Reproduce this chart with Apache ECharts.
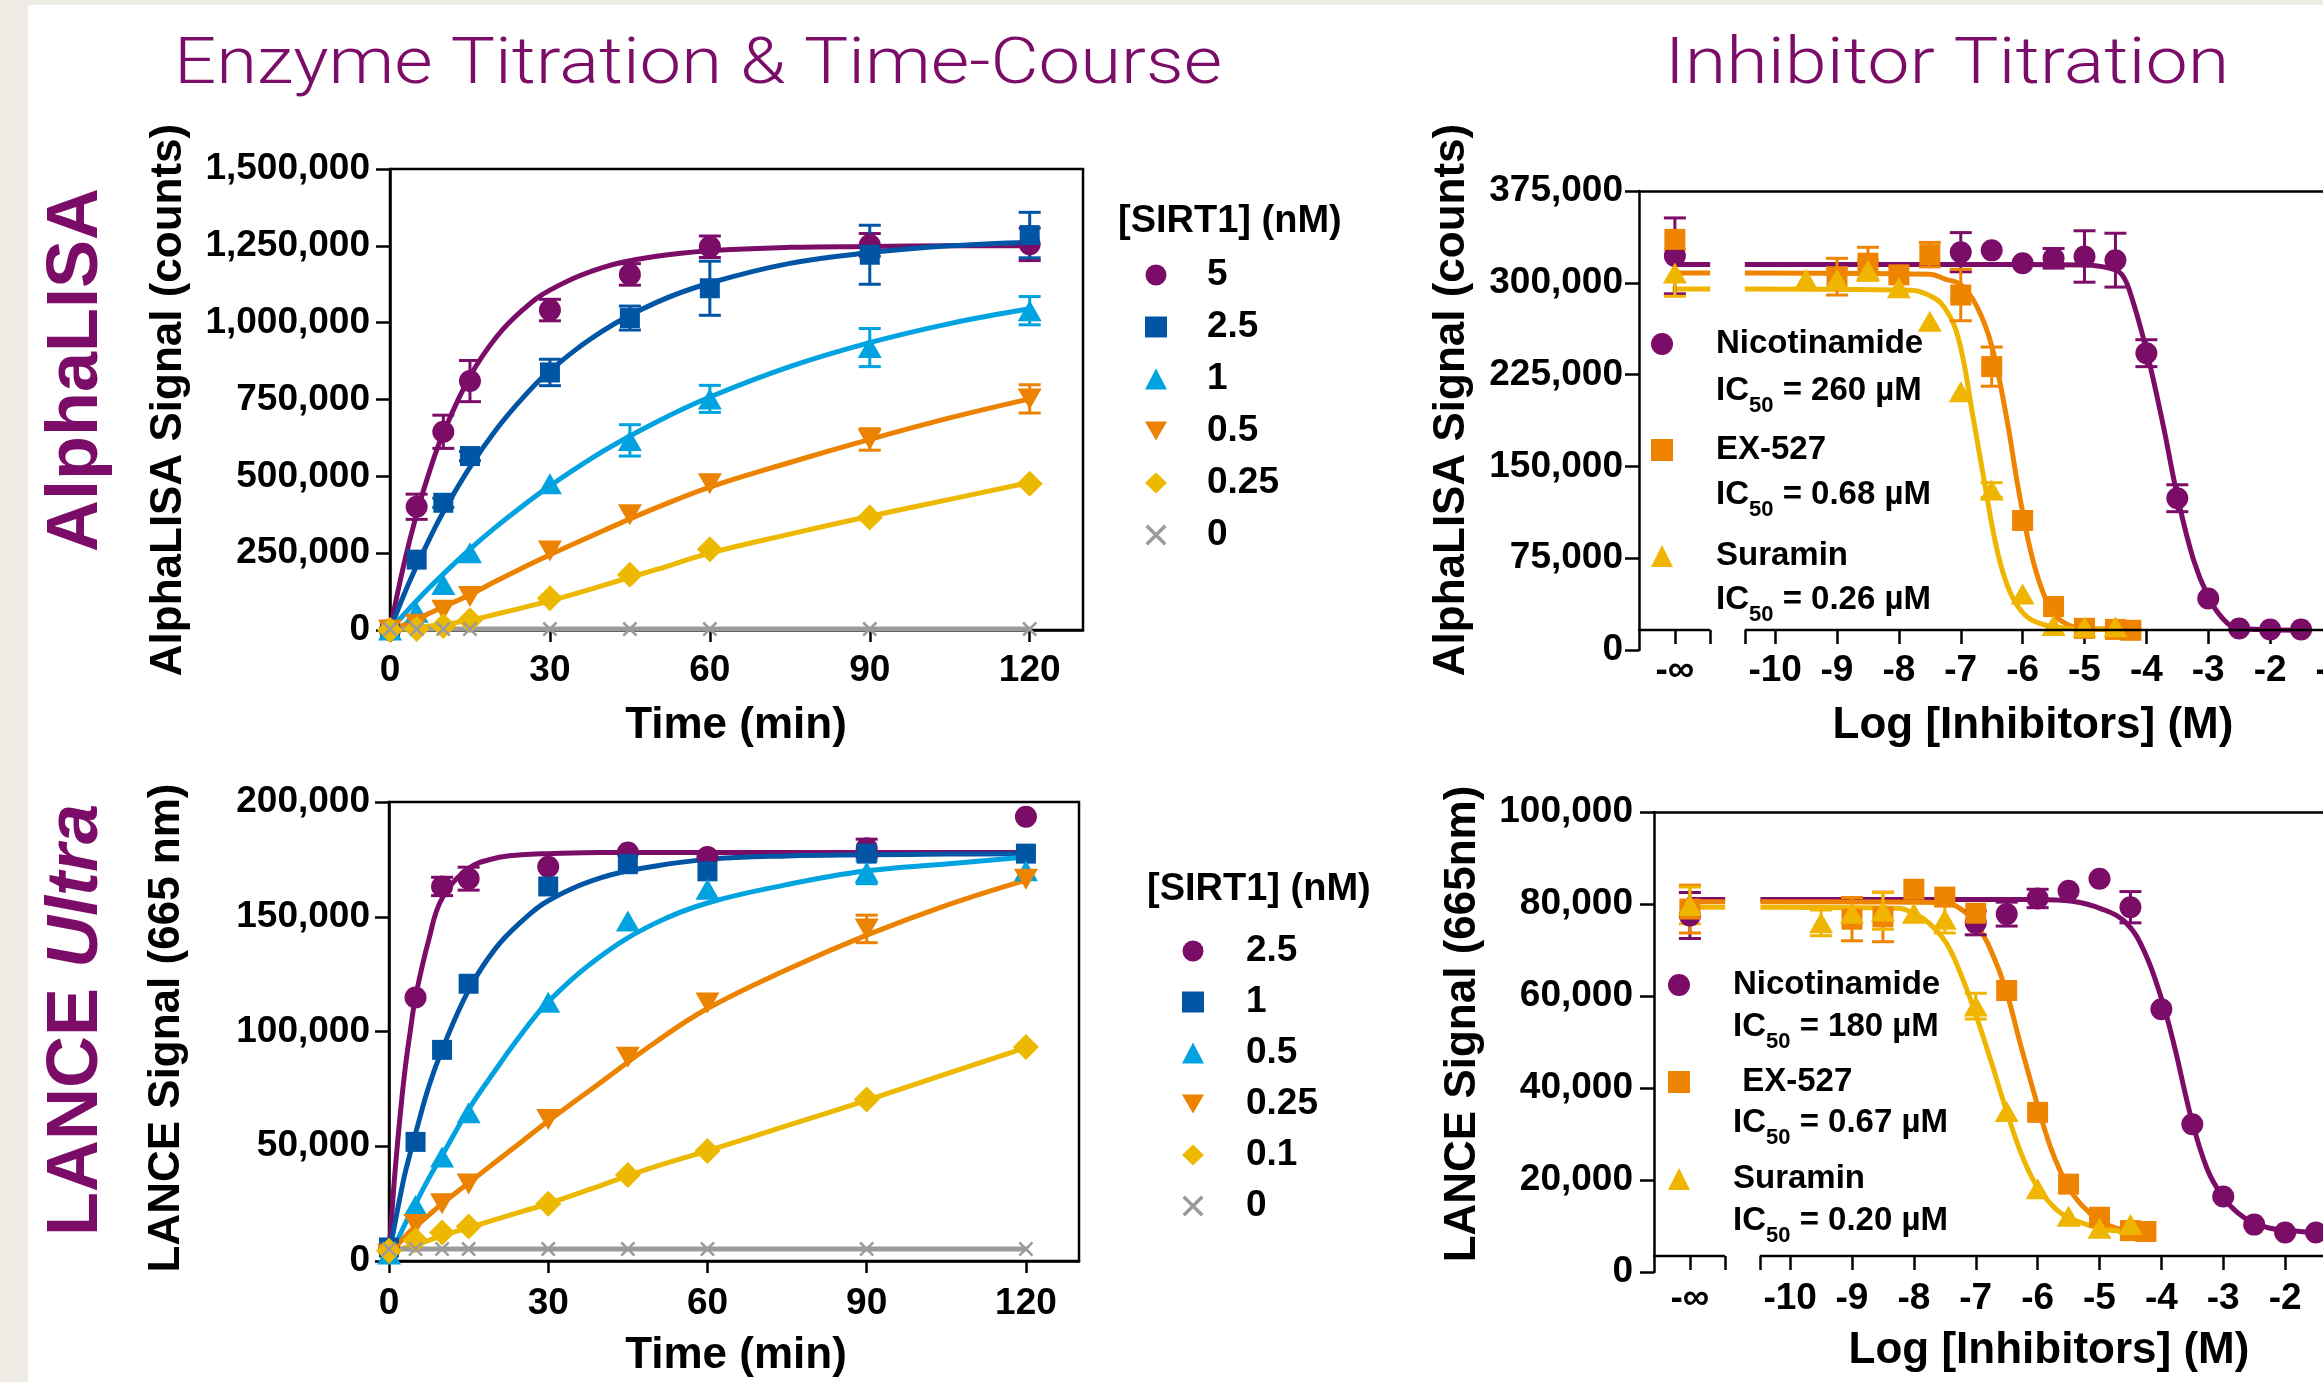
<!DOCTYPE html>
<html><head><meta charset="utf-8">
<script src="https://cdn.jsdelivr.net/npm/echarts@6/dist/echarts.min.js"></script>
<style>html,body{margin:0;padding:0;background:#fff;}#c{width:2323px;height:1382px;}</style>
</head><body><div id="c"></div>
<script>
// ---------------- DATA ----------------
// Enzyme titration & time-course
const TIME_POINTS = [0, 5, 10, 15, 30, 45, 60, 90, 120];
const TIME_TICKS = [0, 30, 60, 90, 120];

// AlphaLISA, [SIRT1] (nM)
const AL_TC_NAMES = ['5', '2.5', '1', '0.5', '0.25', '0'];
const AL_5 = [0, 401000, 645000, 810000, 1041000, 1157000, 1247000, 1253000, 1255000];
const AL_5_ERR = [0, 41000, 54000, 67000, 35000, 35000, 35000, 37000, 53000];
const AL_2_5 = [0, 229000, 414000, 566000, 838000, 1015000, 1112000, 1221000, 1285000];
const AL_2_5_ERR = [0, 0, 15000, 15000, 43000, 39000, 88000, 96000, 74000];
const AL_1 = [0, 58000, 148000, 251000, 476000, 617000, 752000, 919000, 1039000];
const AL_1_ERR = [0, 0, 0, 0, 0, 51000, 44000, 62000, 46000];
const AL_0_5 = [0, 19000, 64000, 109000, 257000, 375000, 476000, 620000, 752000];
const AL_0_5_ERR = [0, 0, 0, 0, 0, 0, 0, 35000, 46000];
const AL_0_25 = [0, 3000, 13000, 32000, 103000, 180000, 263000, 366000, 476000];
const AL_0 = [3000, 3000, 3000, 3000, 3000, 3000, 3000, 3000, 3000];
const AL_FIT_T = [0, 2.5, 5, 7.5, 10, 15, 20, 25, 30, 40, 50, 60, 75, 90, 105, 120];
const AL_FIT_5 = [0, 206000, 378000, 521000, 641000, 825000, 954000, 1043000, 1106000, 1180000, 1216000, 1234000, 1245000, 1248000, 1250000, 1250000];
const AL_FIT_2_5 = [0, 110000, 209000, 300000, 384000, 530000, 654000, 757000, 844000, 974000, 1066000, 1129000, 1193000, 1228000, 1250000, 1262000];
const AL_FIT_1 = [0, 48000, 95000, 140000, 182000, 263000, 337000, 405000, 469000, 582000, 677000, 758000, 857000, 935000, 997000, 1045000];
const AL_FIT_0_5 = [0, 16000, 35000, 55000, 75000, 115000, 160000, 203000, 245000, 323000, 398000, 465000, 545000, 620000, 690000, 752000];
const AL_FIT_0_25 = [0, 3000, 8000, 13000, 18000, 32000, 52000, 73000, 95000, 145000, 197000, 250000, 312000, 370000, 425000, 480000];
const AL_FIT0_T = [0, 120];
const AL_FIT_0 = [3000, 3000];
const AL_TC_TICKS = [0, 250000, 500000, 750000, 1000000, 1250000, 1500000];

// LANCE Ultra, [SIRT1] (nM)
const LU_TC_NAMES = ['2.5', '1', '0.5', '0.25', '0.1', '0'];
const LU_2_5 = [4700, 114800, 163200, 166600, 171800, 178000, 176000, 179800, 193600];
const LU_2_5_ERR = [0, 0, 4000, 5000, 0, 0, 0, 4000, 0];
const LU_1 = [5900, 51900, 92000, 120800, 163200, 172900, 169800, 177500, 177500];
const LU_1_ERR = [0, 0, 0, 0, 0, 0, 0, 0, 0];
const LU_0_5 = [3000, 24200, 45300, 64600, 112700, 148100, 162000, 169400, 170000];
const LU_0_5_ERR = [0, 0, 0, 0, 0, 0, 0, 5000, 0];
const LU_0_25 = [3000, 15900, 24900, 33500, 61700, 88800, 112400, 144700, 166300];
const LU_0_25_ERR = [0, 0, 0, 0, 0, 0, 0, 6000, 0];
const LU_0_1 = [4500, 9000, 12400, 15000, 24900, 37500, 47900, 70400, 93300];
const LU_0 = [5200, 5200, 5200, 5200, 5200, 5200, 5200, 5200, 5200];
const LU_FIT_T = [0, 1, 2, 3, 4, 5, 7.5, 10, 15, 20, 25, 30, 40, 50, 60, 75, 90, 105, 120];
const LU_FIT_2_5 = [3000, 35000, 61000, 83000, 100000, 115000, 140000, 158000, 171000, 175500, 177000, 177500, 178000, 178000, 178000, 178000, 178000, 178000, 178000];
const LU_FIT_1 = [3000, 15000, 27000, 38000, 47000, 55600, 76000, 92000, 118000, 136000, 148000, 157000, 167000, 172000, 175000, 176500, 177000, 177300, 177500];
const LU_FIT_0_5 = [1000, 6000, 11000, 16000, 20500, 25000, 36000, 46000, 66000, 83000, 99000, 113000, 133000, 147000, 156000, 164000, 170000, 173000, 176000];
const LU_FIT_0_25 = [3000, 5500, 8000, 10500, 13000, 15000, 20000, 25000, 34000, 43000, 52000, 61000, 78000, 95000, 110000, 127000, 142000, 155000, 166000];
const LU_FIT_0_1 = [4000, 4600, 5200, 5800, 6400, 7000, 9000, 11000, 14500, 18000, 21500, 25000, 33000, 41000, 48000, 59000, 70000, 81500, 93000];
const LU_FIT0_T = [0, 120];
const LU_FIT_0 = [5200, 5200];
const LU_TC_TICKS = [0, 50000, 100000, 150000, 200000];

// Inhibitor titration: log [inhibitor] (M); -Infinity = no inhibitor
const INHIB_NAMES = ['Nicotinamide', 'EX-527', 'Suramin'];
const LOG_TICK_LABELS = [-10, -9, -8, -7, -6, -5, -4, -3, -2, -1];

const AL_NICO_LOGC = [-Infinity, -7, -6.5, -6, -5.5, -5, -4.5, -4, -3.5, -3, -2.5, -2, -1.5];
const AL_NICO = [322000, 325000, 326500, 316000, 320000, 321500, 318500, 242500, 124000, 42000, 17500, 16800, 16800];
const AL_NICO_ERR = [31000, 16000, 0, 0, 8000, 21000, 22000, 11000, 11000, 0, 0, 0, 0];
const AL_NICO_FIT_X = [-10.49, -6, -5, -4.6, -4.4, -4.25, -4, -3.73, -3.5, -3.24, -3, -2.77, -2.52, -2, -1.5];
const AL_NICO_FIT = [315000, 315000, 314500, 312000, 307000, 290000, 245000, 184000, 126000, 74000, 43600, 26000, 17700, 16500, 16200];
const AL_EX_LOGC = [-Infinity, -9, -8.5, -8, -7.5, -7, -6.5, -6, -5.5, -5, -4.5, -4.25];
const AL_EX = [335500, 305000, 316000, 306500, 323000, 290000, 231500, 105800, 35500, 17700, 16800, 16100];
const AL_EX_ERR = [0, 15000, 13000, 0, 10000, 21000, 16000, 0, 0, 0, 0, 0];
const AL_EX_FIT_X = [-10.49, -7.5, -7.25, -7, -6.74, -6.5, -6.26, -6.07, -5.87, -5.68, -5.49, -5.24, -5, -4.22];
const AL_EX_FIT = [308000, 307000, 303000, 298500, 280700, 248500, 190000, 132000, 80700, 48400, 29000, 20000, 17700, 16800];
const AL_SUR_LOGC = [-Infinity, -9.5, -9, -8.5, -8, -7.5, -7, -6.5, -6, -5.5, -5, -4.5];
const AL_SUR = [308000, 303000, 303000, 310000, 296000, 268500, 211000, 130700, 45800, 20000, 18700, 19000];
const AL_SUR_ERR = [19000, 0, 8000, 8000, 0, 0, 0, 6000, 0, 0, 0, 0];
const AL_SUR_FIT_X = [-10.49, -7.8, -7.52, -7.28, -7.04, -6.8, -6.6, -6.41, -6.21, -5.97, -5.68, -5.29, -4.51];
const AL_SUR_FIT = [295000, 294000, 290000, 281000, 255000, 190000, 132000, 81000, 48000, 29000, 21000, 18000, 16500];
const AL_IC50 = ['260 µM', '0.68 µM', '0.26 µM'];
const AL_IN_TICKS = [0, 75000, 150000, 225000, 300000, 375000];

const LU_NICO_LOGC = [-Infinity, -7, -6.5, -6, -5.5, -5, -4.5, -4, -3.5, -3, -2.5, -2, -1.5];
const LU_NICO = [77500, 75900, 77800, 81200, 82900, 85500, 79300, 57100, 32100, 16400, 10300, 8600, 8600];
const LU_NICO_ERR = [5000, 2600, 2600, 2000, 0, 0, 3400, 0, 0, 0, 0, 0, 0];
const LU_NICO_FIT_X = [-10.48, -6, -5.44, -4.96, -4.57, -4.28, -4.0, -3.79, -3.52, -3.26, -3.01, -2.77, -2.53, -2.24, -2.0, -1.54];
const LU_NICO_FIT = [81000, 81000, 80600, 78900, 75900, 69800, 59500, 49100, 33600, 22400, 16400, 12900, 10800, 9500, 9100, 8600];
const LU_EX_LOGC = [-Infinity, -9, -8.5, -8, -7.5, -7, -6.5, -6, -5.5, -5, -4.5, -4.25];
const LU_EX = [78900, 76700, 77200, 83200, 81500, 78000, 61200, 34700, 19100, 11900, 9000, 8800];
const LU_EX_ERR = [5200, 4700, 5400, 0, 0, 0, 0, 0, 0, 0, 0, 0];
const LU_EX_FIT_X = [-10.48, -7.51, -7.24, -7.0, -6.75, -6.51, -6.27, -6.0, -5.78, -5.54, -5.30, -5.0, -4.71, -4.23];
const LU_EX_FIT = [80500, 80300, 78900, 75900, 69800, 61200, 49100, 36200, 26700, 19400, 14700, 11200, 9500, 8600];
const LU_SUR_LOGC = [-Infinity, -9.5, -9, -8.5, -8, -7.5, -7, -6.5, -6, -5.5, -5, -4.5];
const LU_SUR = [79700, 75900, 78000, 78500, 78000, 76700, 57800, 34900, 18100, 12100, 9500, 10300];
const LU_SUR_ERR = [4000, 2800, 0, 4000, 0, 3000, 2800, 0, 0, 0, 0, 0];
const LU_SUR_FIT_X = [-10.48, -8.26, -8.0, -7.76, -7.48, -7.24, -7.0, -6.75, -6.51, -6.27, -6.03, -5.78, -5.54, -5.0, -4.52];
const LU_SUR_FIT = [79300, 79100, 78000, 75900, 71600, 64700, 56000, 45700, 35300, 25900, 19000, 14700, 12100, 9500, 8800];
const LU_IC50 = ['180 µM', '0.67 µM', '0.20 µM'];
const LU_IN_TICKS = [0, 20000, 40000, 60000, 80000, 100000];

// ---------------- STYLE ----------------
const FONT = '"Liberation Sans", Arial, Helvetica, sans-serif';
const TITLE_FONT = 'Roboto, "Open Sans", Lato, sans-serif';
const PURPLE = '#7B0C68', BLUE = '#0055A5', CYAN = '#00A3DF', ORANGE = '#EB8200', GOLD = '#EDB800', GRAY = '#9B9B9B';
const IN_ORANGE = '#EE8400', IN_GOLD = '#F0B500';
const SYM_DOWN = 'path://M0,0 L10,0 L5,8.7 Z';
const SYM_X = 'path://M1.2,0 L5,3.8 L8.8,0 L10,1.2 L6.2,5 L10,8.8 L8.8,10 L5,6.2 L1.2,10 L0,8.8 L3.8,5 L0,1.2 Z';
// broken log axis layout (axis positions, not data)
const LOG_MIN = -12.2, LOG_MAX = 0.6;
const NEG_INF_POS = -11.62, SEG1_END = -11.05, SEG2_START = -10.49, NEG_INF_LINE_START = -11.66;
const AX_W = 2.5;

const chart = echarts.init(document.getElementById('c'), null, {renderer: 'canvas', width: 2323, height: 1382});

const lineStyleAx = {color: '#000', width: AX_W};
const fmtNum = v => v.toLocaleString('en-US');
const fmtLog = v => (v < -11 ? '-∞' : '-' + Math.abs(v));
const labelStyle = {fontSize: 37, fontWeight: 'bold', color: '#000', fontFamily: FONT};

function timeX(gi, margin) {
  return {type: 'value', gridIndex: gi, min: 0, max: 130, position: 'bottom',
    axisLine: {show: true, onZero: false, lineStyle: lineStyleAx},
    axisTick: {show: true, length: 12, customValues: TIME_TICKS, lineStyle: lineStyleAx},
    axisLabel: Object.assign({margin, customValues: TIME_TICKS}, labelStyle),
    splitLine: {show: false}};
}
function logX(gi, offset, margin) {
  const ticks = [NEG_INF_POS, SEG1_END, SEG2_START].concat(LOG_TICK_LABELS);
  return {type: 'value', gridIndex: gi, min: LOG_MIN, max: LOG_MAX, position: 'bottom', offset: -offset,
    axisLine: {show: false, onZero: false},
    axisTick: {show: true, length: 14, customValues: ticks, lineStyle: lineStyleAx},
    axisLabel: Object.assign({margin, customValues: [NEG_INF_POS].concat(LOG_TICK_LABELS), formatter: fmtLog}, labelStyle),
    splitLine: {show: false}};
}
function frameX(gi) {
  return {type: 'value', gridIndex: gi, min: LOG_MIN, max: LOG_MAX, position: 'top',
    axisLine: {show: true, onZero: false, lineStyle: lineStyleAx}, axisTick: {show: false}, axisLabel: {show: false}, splitLine: {show: false}};
}
function yAx(gi, ticks, margin) {
  return {type: 'value', gridIndex: gi, min: 0, max: ticks[ticks.length - 1], interval: ticks[1] - ticks[0],
    axisLine: {show: true, onZero: false, lineStyle: lineStyleAx},
    axisTick: {show: true, length: 14, lineStyle: lineStyleAx},
    axisLabel: Object.assign({margin, formatter: fmtNum}, labelStyle),
    splitLine: {show: false}};
}

const curves = [], errs = [], marks = [];
function group(xi, yi, name, color, symbol, size, xs, ys, es, fx, fy, extraTop) {
  const px = x => (x === -Infinity ? NEG_INF_POS : x);
  curves.push({type: 'line', xAxisIndex: xi, yAxisIndex: yi, data: fx.map((x, i) => [x, fy[i]]),
    showSymbol: false, symbol: 'none', smooth: 0.4, clip: false,
    lineStyle: {color, width: 5}, itemStyle: {color}, z: 2, silent: true});
  if (extraTop) {
    curves.push({type: 'line', xAxisIndex: xi, yAxisIndex: yi, data: [[NEG_INF_LINE_START, fy[0]], [SEG1_END, fy[0]]],
      showSymbol: false, symbol: 'none', clip: false, lineStyle: {color, width: 5}, itemStyle: {color}, z: 2, silent: true});
  }
  if (es) {
    errs.push({type: 'custom', xAxisIndex: xi, yAxisIndex: yi, z: 3, silent: true, clip: false,
      data: xs.map((x, i) => [px(x), ys[i], es[i]]), encode: {x: 0, y: 1},
      renderItem: function (params, api) {
        const x = api.value(0), y = api.value(1), e = api.value(2);
        if (!e) return {type: 'group', children: []};
        const t = api.coord([x, y + e]), b = api.coord([x, y - e]);
        const w = 11, st = {stroke: color, lineWidth: 3};
        return {type: 'group', children: [
          {type: 'line', shape: {x1: t[0], y1: t[1], x2: b[0], y2: b[1]}, style: st},
          {type: 'line', shape: {x1: t[0] - w, y1: t[1], x2: t[0] + w, y2: t[1]}, style: st},
          {type: 'line', shape: {x1: b[0] - w, y1: b[1], x2: b[0] + w, y2: b[1]}, style: st}]};
      }});
  }
  marks.push({type: 'scatter', name, xAxisIndex: xi, yAxisIndex: yi, data: xs.map((x, i) => [px(x), ys[i]]),
    symbol, symbolSize: size, clip: false, itemStyle: {color, opacity: 1}, z: 4, silent: true});
}

// top-left
group(0, 0, 'A|' + AL_TC_NAMES[0], PURPLE, 'circle', 22, TIME_POINTS, AL_5, AL_5_ERR, AL_FIT_T, AL_FIT_5);
group(0, 0, 'A|' + AL_TC_NAMES[1], BLUE, 'rect', 20, TIME_POINTS, AL_2_5, AL_2_5_ERR, AL_FIT_T, AL_FIT_2_5);
group(0, 0, 'A|' + AL_TC_NAMES[2], CYAN, 'triangle', [24, 21], TIME_POINTS, AL_1, AL_1_ERR, AL_FIT_T, AL_FIT_1);
group(0, 0, 'A|' + AL_TC_NAMES[3], ORANGE, SYM_DOWN, [24, 21], TIME_POINTS, AL_0_5, AL_0_5_ERR, AL_FIT_T, AL_FIT_0_5);
group(0, 0, 'A|' + AL_TC_NAMES[4], GOLD, 'diamond', 26, TIME_POINTS, AL_0_25, null, AL_FIT_T, AL_FIT_0_25);
group(0, 0, 'A|' + AL_TC_NAMES[5], GRAY, SYM_X, 15, TIME_POINTS, AL_0, null, AL_FIT0_T, AL_FIT_0);
// bottom-left
group(3, 2, 'L|' + LU_TC_NAMES[0], PURPLE, 'circle', 22, TIME_POINTS, LU_2_5, LU_2_5_ERR, LU_FIT_T, LU_FIT_2_5);
group(3, 2, 'L|' + LU_TC_NAMES[1], BLUE, 'rect', 20, TIME_POINTS, LU_1, LU_1_ERR, LU_FIT_T, LU_FIT_1);
group(3, 2, 'L|' + LU_TC_NAMES[2], CYAN, 'triangle', [24, 21], TIME_POINTS, LU_0_5, LU_0_5_ERR, LU_FIT_T, LU_FIT_0_5);
group(3, 2, 'L|' + LU_TC_NAMES[3], ORANGE, SYM_DOWN, [24, 21], TIME_POINTS, LU_0_25, LU_0_25_ERR, LU_FIT_T, LU_FIT_0_25);
group(3, 2, 'L|' + LU_TC_NAMES[4], GOLD, 'diamond', 26, TIME_POINTS, LU_0_1, null, LU_FIT_T, LU_FIT_0_1);
group(3, 2, 'L|' + LU_TC_NAMES[5], GRAY, SYM_X, 15, TIME_POINTS, LU_0, null, LU_FIT0_T, LU_FIT_0);
// top-right
group(1, 1, 'AI|' + INHIB_NAMES[0], PURPLE, 'circle', 22, AL_NICO_LOGC, AL_NICO, AL_NICO_ERR, AL_NICO_FIT_X, AL_NICO_FIT, true);
group(1, 1, 'AI|' + INHIB_NAMES[1], IN_ORANGE, 'rect', 21, AL_EX_LOGC, AL_EX, AL_EX_ERR, AL_EX_FIT_X, AL_EX_FIT, true);
group(1, 1, 'AI|' + INHIB_NAMES[2], IN_GOLD, 'triangle', [24, 21], AL_SUR_LOGC, AL_SUR, AL_SUR_ERR, AL_SUR_FIT_X, AL_SUR_FIT, true);
// bottom-right
group(4, 3, 'LI|' + INHIB_NAMES[0], PURPLE, 'circle', 22, LU_NICO_LOGC, LU_NICO, LU_NICO_ERR, LU_NICO_FIT_X, LU_NICO_FIT, true);
group(4, 3, 'LI|' + INHIB_NAMES[1], IN_ORANGE, 'rect', 21, LU_EX_LOGC, LU_EX, LU_EX_ERR, LU_EX_FIT_X, LU_EX_FIT, true);
group(4, 3, 'LI|' + INHIB_NAMES[2], IN_GOLD, 'triangle', [24, 21], LU_SUR_LOGC, LU_SUR, LU_SUR_ERR, LU_SUR_FIT_X, LU_SUR_FIT, true);

function legTs(size, lh, padLeft) {
  return {fontSize: size, fontWeight: 'bold', fontFamily: FONT, color: '#000', lineHeight: lh, padding: [0, 0, 0, padLeft]};
}
function leg(prefix, names, left, top, w, h, gap, ts, fmt) {
  return {data: names.map(n => prefix + n), orient: 'vertical', left, top, itemWidth: w, itemHeight: h, itemGap: gap,
    padding: 0, selectedMode: false, textStyle: ts, formatter: fmt || (n => n.split('|')[1]), symbolKeepAspect: true};
}

function txt(x, y, text, size, opts) {
  opts = opts || {};
  return {type: 'text', x, y, rotation: opts.rot || 0, scaleX: opts.sx || 1, z: 10, silent: true,
    style: Object.assign({text, fontSize: size, fontWeight: opts.weight || 'bold', fontFamily: opts.family || FONT,
      fill: opts.color || '#000', align: opts.align || 'center', verticalAlign: opts.valign || 'middle'}, opts.style || {})};
}
function icText(x, y, value) {
  const base = {fontSize: 33, fontWeight: 'bold', fontFamily: FONT, fill: '#000'};
  return {type: 'text', x, y, z: 10, silent: true, style: {
    text: '{a|IC}{s|50}{a| = ' + value + '}{h|\u200b}', align: 'left', verticalAlign: 'top',
    rich: {a: Object.assign({lineHeight: 40, verticalAlign: 'top'}, base),
           s: {fontSize: 22, fontWeight: 'bold', fontFamily: FONT, fill: '#000', lineHeight: 22, verticalAlign: 'bottom'},
           h: {fontSize: 2, lineHeight: 43, fontFamily: FONT}}}};
}

const baseGraphics = [
  {type: 'rect', shape: {x: 0, y: 0, width: 28, height: 1382}, style: {fill: '#EDEBE4'}, z: 0, silent: true},
  {type: 'rect', shape: {x: 0, y: 0, width: 2323, height: 5}, style: {fill: '#EDEBE4'}, z: 0, silent: true},
  txt(698, 67, 'Enzyme Titration & Time-Course', 64, {weight: 300, family: TITLE_FONT, color: PURPLE, sx: 1.16}),
  txt(1947, 67, 'Inhibitor Titration', 64, {weight: 300, family: TITLE_FONT, color: PURPLE, sx: 1.18}),
  txt(77, 370, 'AlphaLISA', 72, {rot: Math.PI / 2, color: PURPLE}),
  {type: 'text', x: 77, y: 1020, rotation: Math.PI / 2, z: 10, silent: true, style: {
    text: '{b|LANCE }{i|Ultra}', align: 'center', verticalAlign: 'middle',
    rich: {b: {fontSize: 72, fontWeight: 'bold', fontFamily: FONT, fill: PURPLE},
           i: {fontSize: 72, fontWeight: 'bold', fontStyle: 'italic', fontFamily: FONT, fill: PURPLE}}}},
  txt(169, 400, 'AlphaLISA Signal (counts)', 44, {rot: Math.PI / 2}),
  txt(1452, 400, 'AlphaLISA Signal (counts)', 44, {rot: Math.PI / 2}),
  txt(167, 1028, 'LANCE Signal (665 nm)', 44, {rot: Math.PI / 2}),
  txt(1463, 1024, 'LANCE Signal (665nm)', 44, {rot: Math.PI / 2}),
  txt(736, 726, 'Time (min)', 44),
  txt(736, 1356, 'Time (min)', 44),
  txt(2033, 726, 'Log [Inhibitors] (M)', 44),
  txt(2049, 1351, 'Log [Inhibitors] (M)', 44),
  txt(1118, 222, '[SIRT1] (nM)', 38, {align: 'left'}),
  txt(1147, 890, '[SIRT1] (nM)', 38, {align: 'left'}),
  icText(1716, 374, AL_IC50[0]), icText(1716, 478, AL_IC50[1]), icText(1716, 583, AL_IC50[2]),
  icText(1733, 1010, LU_IC50[0]), icText(1733, 1106, LU_IC50[1]), icText(1733, 1204, LU_IC50[2])
];

const option = {
  animation: false,
  backgroundColor: '#fff',
  grid: [
    {left: 390, top: 169, width: 693, height: 461, show: true, borderColor: '#000', borderWidth: AX_W, containLabel: false, outerBoundsMode: 'none'},
    {left: 1639, top: 191, width: 792, height: 459, containLabel: false, outerBoundsMode: 'none'},
    {left: 389, top: 802, width: 690, height: 459, show: true, borderColor: '#000', borderWidth: AX_W, containLabel: false, outerBoundsMode: 'none'},
    {left: 1654, top: 812, width: 792, height: 460, containLabel: false, outerBoundsMode: 'none'}
  ],
  xAxis: [timeX(0, 22), logX(1, 20, 22), frameX(1), timeX(2, 24), logX(3, 16, 24), frameX(3)],
  yAxis: [yAx(0, AL_TC_TICKS, 20), yAx(1, AL_IN_TICKS, 16), yAx(2, LU_TC_TICKS, 19), yAx(3, LU_IN_TICKS, 21)],
  legend: [
    leg('A|', AL_TC_NAMES, 1145, 256, 22, 21, 14, legTs(37, 38, 35)),
    leg('L|', LU_TC_NAMES, 1182, 932, 22, 21, 13, legTs(37, 38, 37)),
    leg('AI|', INHIB_NAMES, 1651, 327, 22, 22, 72, legTs(33, 34, 38)),
    leg('LI|', INHIB_NAMES, 1668, 968, 22, 22, 63, legTs(33, 34, 38), n => (n.indexOf('EX') >= 0 ? ' ' : '') + n.split('|')[1])
  ],
  graphic: baseGraphics,
  series: curves.concat(errs, marks)
};
chart.setOption(option);

function axisSegs(xi, yi, offset) {
  const f = {xAxisIndex: xi, yAxisIndex: yi};
  const y0 = chart.convertToPixel(f, [0, 0])[1] - offset;
  const a = chart.convertToPixel(f, [LOG_MIN, 0])[0];
  const b = chart.convertToPixel(f, [SEG1_END, 0])[0];
  const c = chart.convertToPixel(f, [SEG2_START, 0])[0];
  const d = chart.convertToPixel(f, [LOG_MAX, 0])[0];
  const st = {stroke: '#000', lineWidth: AX_W};
  return [
    {type: 'line', shape: {x1: a - 1, y1: y0, x2: b, y2: y0}, style: st, z: 5, silent: true},
    {type: 'line', shape: {x1: c, y1: y0, x2: d, y2: y0}, style: st, z: 5, silent: true}
  ];
}
chart.setOption({graphic: baseGraphics.concat(axisSegs(1, 1, 20), axisSegs(4, 3, 16))});
</script></body></html>
